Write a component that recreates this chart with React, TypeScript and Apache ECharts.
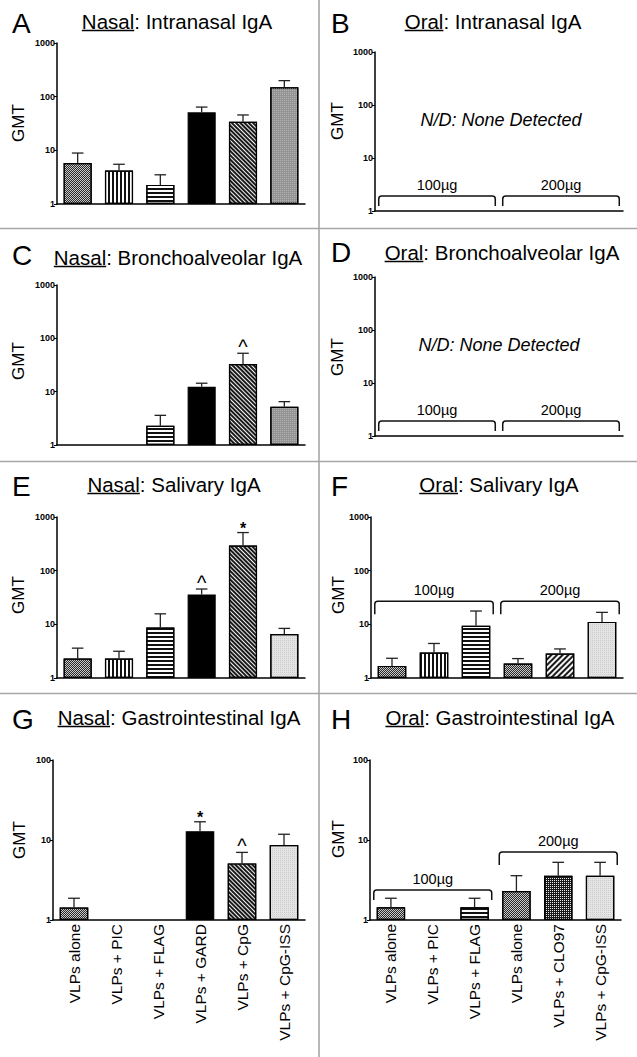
import React, { useEffect, useRef } from 'react';
import * as echarts from 'echarts';

// ---------------- data ----------------
const nasalCategories = ['VLPs alone', 'VLPs + PIC', 'VLPs + FLAG', 'VLPs + GARD', 'VLPs + CpG', 'VLPs + CpG-ISS'];
const oralCategories = ['VLPs alone', 'VLPs + PIC', 'VLPs + FLAG', 'VLPs alone', 'VLPs + CLO97', 'VLPs + CpG-ISS'];

const nasalIntranasal = [5.8, 4.2, 2.27, 51, 34, 149];
const nasalIntranasalErr = [8.9, 5.5, 3.5, 64, 45.6, 199];

const nasalBronch = [null, null, 2.3, 12.4, 33, 5.2];
const nasalBronchErr = [null, null, 3.6, 14.4, 52.5, 6.5];
const nasalBronchSig = ['', '', '', '', '^', ''];

const nasalSalivary = [2.3, 2.3, 8.75, 36, 293, 6.6];
const nasalSalivaryErr = [3.6, 3.15, 15.7, 45.5, 513, 8.4];
const nasalSalivarySig = ['', '', '', '^', '*', ''];

const oralSalivary = [1.68, 2.98, 9.4, 1.86, 2.86, 11.1];
const oralSalivaryErr = [2.33, 4.4, 17.7, 2.3, 3.48, 16.7];

const nasalGI = [1.43, null, null, 12.9, 5.1, 8.66];
const nasalGIErr = [1.87, null, null, 16.9, 7.0, 11.8];
const nasalGISig = ['', '', '', '*', '^', ''];

const oralGI = [1.44, null, 1.44, 2.3, 3.58, 3.58];
const oralGIErr = [1.87, null, 1.87, 3.58, 5.26, 5.26];

const doseLabels = ['100µg', '200µg'];
const doseGroups = [[0, 2], [3, 5]];
const bracketLevelND = [1.92, 1.92];
const bracketLevelOralSalivary = [27, 27];
const bracketLevelOralGI = [2.37, 7.1];

const nasalPatterns = ['checker', 'vert', 'horiz', 'solid', 'diag', 'issDark'];
const nasalPatternsLight = ['checker', 'vert', 'horiz', 'solid', 'diag', 'issLight'];
const oralSalivaryPatterns = ['checker', 'vert', 'horiz', 'checker', 'diagR', 'issLight'];
const oralGIPatterns = ['checker', 'vert', 'horiz', 'checker', 'grid', 'issLight'];

// ---------------- styling ----------------
const FONT = '"Liberation Sans", Arial, Helvetica, sans-serif';

const FILLS: Record<string, any> = {
  checker: { color: '#c8c8c8', decal: { symbol: 'rect', symbolSize: 1, dashArrayX: [[1, 1], [0, 1, 1, 0]], dashArrayY: [1, 0], color: '#2a2a2a' } },
  vert: { color: '#ffffff', decal: { symbol: 'rect', symbolSize: 1, dashArrayX: [1.4, 1.2], dashArrayY: [1, 0], color: '#111' } },
  horiz: { color: '#ffffff', decal: { symbol: 'rect', symbolSize: 1, dashArrayX: [1, 0], dashArrayY: [1.5, 1.5], color: '#111' } },
  solid: { color: '#000000' },
  diag: { color: '#f4f4f4', decal: { symbol: 'rect', symbolSize: 1, dashArrayX: [1, 0], dashArrayY: [1.6, 1.0], rotation: Math.PI / 4, color: '#1a1a1a' } },
  diagR: { color: '#f4f4f4', decal: { symbol: 'rect', symbolSize: 1, dashArrayX: [1, 0], dashArrayY: [1.6, 1.1], rotation: -Math.PI / 4, color: '#1a1a1a' } },
  grid: { color: '#1a1a1a', decal: { symbol: 'rect', symbolSize: 1, dashArrayX: [1, 1], dashArrayY: [1, 1], color: '#e8e8e8' } },
  issDark: { color: '#939393', decal: { symbol: 'rect', symbolSize: 1, dashArrayX: [1, 1], dashArrayY: [1, 1], color: '#b4b4b4' } },
  issLight: { color: '#e4e4e4', decal: { symbol: 'rect', symbolSize: 1, dashArrayX: [1, 1], dashArrayY: [1, 1], color: '#cbcbcb' } },
};

type Panel = {
  grid: { left: number; top: number; width: number; height: number };
  max: number;
  cats: string[];
  labels: boolean;
  values?: (number | null)[];
  errs?: (number | null)[];
  sig?: string[];
  patterns?: string[];
  brackets?: number[];
  bracketDrop?: number[];
};

const panels: Panel[] = [
  { grid: { left: 57, top: 43, width: 248, height: 161 }, max: 1000, cats: nasalCategories, labels: false, values: nasalIntranasal, errs: nasalIntranasalErr, patterns: nasalPatterns },
  { grid: { left: 375, top: 52, width: 248, height: 159 }, max: 1000, cats: oralCategories, labels: false, brackets: bracketLevelND, bracketDrop: [10, 10] },
  { grid: { left: 57, top: 285, width: 248, height: 160 }, max: 1000, cats: nasalCategories, labels: false, values: nasalBronch, errs: nasalBronchErr, sig: nasalBronchSig, patterns: nasalPatterns },
  { grid: { left: 375, top: 277, width: 248, height: 159 }, max: 1000, cats: oralCategories, labels: false, brackets: bracketLevelND, bracketDrop: [10, 10] },
  { grid: { left: 57, top: 517, width: 248, height: 161 }, max: 1000, cats: nasalCategories, labels: false, values: nasalSalivary, errs: nasalSalivaryErr, sig: nasalSalivarySig, patterns: nasalPatternsLight },
  { grid: { left: 371, top: 517, width: 252, height: 161 }, max: 1000, cats: oralCategories, labels: false, values: oralSalivary, errs: oralSalivaryErr, patterns: oralSalivaryPatterns, brackets: bracketLevelOralSalivary, bracketDrop: [13, 13] },
  { grid: { left: 53, top: 760, width: 252, height: 160 }, max: 100, cats: nasalCategories, labels: true, values: nasalGI, errs: nasalGIErr, sig: nasalGISig, patterns: nasalPatternsLight },
  { grid: { left: 370, top: 760, width: 251, height: 160 }, max: 100, cats: oralCategories, labels: true, values: oralGI, errs: oralGIErr, patterns: oralGIPatterns, brackets: bracketLevelOralGI, bracketDrop: [10, 13] },
];

const letters = [
  { t: 'A', x: 12, y: 23 }, { t: 'B', x: 331, y: 23 },
  { t: 'C', x: 12, y: 255 }, { t: 'D', x: 331, y: 252 },
  { t: 'E', x: 12, y: 486 }, { t: 'F', x: 331, y: 486 },
  { t: 'G', x: 12, y: 719 }, { t: 'H', x: 331, y: 719 },
];

const titles = [
  { w: 'Nasal', r: ': Intranasal IgA', x: 177, y: 21 },
  { w: 'Oral', r: ': Intranasal IgA', x: 493, y: 21 },
  { w: 'Nasal', r: ': Bronchoalveolar IgA', x: 178, y: 257 },
  { w: 'Oral', r: ': Bronchoalveolar IgA', x: 502, y: 252 },
  { w: 'Nasal', r: ': Salivary IgA', x: 174, y: 484 },
  { w: 'Oral', r: ': Salivary IgA', x: 499, y: 484 },
  { w: 'Nasal', r: ': Gastrointestinal IgA', x: 179, y: 717 },
  { w: 'Oral', r: ': Gastrointestinal IgA', x: 500, y: 717 },
];

const gmtPos = [
  [18, 123], [337, 121], [18, 361], [337, 357], [18.5, 595], [338, 595], [19, 840], [338.5, 839],
];

const ndPos = [[501, 119.5], [499, 344.5]];

function measure(text: string, font: string) {
  const c = document.createElement('canvas').getContext('2d') as CanvasRenderingContext2D;
  c.font = font;
  return c.measureText(text).width;
}

function txt(x: number, y: number, text: string, font: string, align = 'center', vAlign = 'middle', rotation = 0) {
  return {
    type: 'text', x, y, rotation, silent: true,
    style: { text, font, fill: '#000', align, verticalAlign: vAlign, textAlign: align, textVerticalAlign: vAlign },
  };
}

function buildOption() {
  const grids: any[] = [];
  const xAxes: any[] = [];
  const yAxes: any[] = [];
  const series: any[] = [];
  const graphics: any[] = [];

  panels.forEach((p, i) => {
    grids.push({ ...p.grid, containLabel: false });
    xAxes.push({
      type: 'category', gridIndex: i, data: p.cats, boundaryGap: true,
      axisLine: { show: true, lineStyle: { color: '#000', width: 1.5 } },
      axisTick: { show: false },
      axisLabel: p.labels
        ? { show: true, rotate: 90, interval: 0, fontSize: 15.5, color: '#000', fontFamily: FONT, margin: 4 }
        : { show: false },
      splitLine: { show: false },
    });
    yAxes.push({
      type: 'log', logBase: 10, min: 1, max: p.max, gridIndex: i,
      axisLine: { show: true, lineStyle: { color: '#000', width: 1.5 } },
      axisTick: { show: true, length: 3, lineStyle: { color: '#000', width: 1 } },
      axisLabel: { show: true, fontSize: 9, fontWeight: 'bold', color: '#000', fontFamily: FONT, margin: 2, formatter: (v: number) => String(Math.round(v)) },
      splitLine: { show: false },
      minorTick: { show: false },
    });

    if (p.values) {
      const pats = p.patterns as string[];
      series.push({
        type: 'bar', xAxisIndex: i, yAxisIndex: i, barWidth: '68%',
        itemStyle: { borderColor: '#000', borderWidth: 1.2 },
        data: p.values.map((v, k) => (v == null ? '-' : {
          value: v,
          itemStyle: { color: FILLS[pats[k]].color, decal: FILLS[pats[k]].decal || 'none' },
        })),
        z: 2,
      });
      const sig = p.sig;
      const errData = p.values
        .map((v, k) => (v == null ? null : [k, v, (p.errs as any)[k]]))
        .filter((d) => d != null);
      series.push({
        type: 'custom', xAxisIndex: i, yAxisIndex: i, z: 3,
        data: errData,
        renderItem: (params: any, api: any) => {
          const k = api.value(0);
          const base = api.coord([k, api.value(1)]);
          const top = api.coord([k, api.value(2)]);
          const half = api.size([1, 0])[0] * 0.14;
          const children: any[] = [
            { type: 'line', shape: { x1: base[0], y1: base[1], x2: top[0], y2: top[1] }, style: { stroke: '#222', lineWidth: 1.3 } },
            { type: 'line', shape: { x1: top[0] - half, y1: top[1], x2: top[0] + half, y2: top[1] }, style: { stroke: '#222', lineWidth: 1.3 } },
          ];
          const m = sig ? sig[k] : '';
          if (m) {
            const f = m === '^' ? `20px ${FONT}` : `bold 16px ${FONT}`;
            children.push({
              type: 'text',
              style: { text: m, x: top[0], y: top[1] + 4, font: f, fill: '#000', align: 'center', verticalAlign: 'bottom', textAlign: 'center', textVerticalAlign: 'bottom' },
            });
          }
          return { type: 'group', children };
        },
      });
    }

    if (p.brackets) {
      const drops = p.bracketDrop as number[];
      series.push({
        type: 'custom', xAxisIndex: i, yAxisIndex: i, z: 4,
        data: doseGroups.map((g, j) => [g[0], (p.brackets as number[])[j], g[1]]),
        renderItem: (params: any, api: any) => {
          const lvl = api.value(1);
          const a = api.coord([api.value(0), lvl]);
          const b = api.coord([api.value(2), lvl]);
          const bw = api.size([1, 0])[0];
          const x1 = a[0] - bw * 0.41;
          const x2 = b[0] + bw * 0.41;
          const yt = a[1];
          const yb = yt + drops[params.dataIndex];
          const r = 3;
          const d = `M${x1} ${yb} L${x1} ${yt + r} Q${x1} ${yt} ${x1 + r} ${yt} L${x2 - r} ${yt} Q${x2} ${yt} ${x2} ${yt + r} L${x2} ${yb}`;
          return {
            type: 'group',
            children: [
              { type: 'path', shape: { pathData: d }, style: { stroke: '#111', lineWidth: 1.5, fill: 'none' } },
              {
                type: 'text',
                style: { text: doseLabels[params.dataIndex], x: (x1 + x2) / 2, y: yt - 11, font: `14.5px ${FONT}`, fill: '#000', align: 'center', verticalAlign: 'middle', textAlign: 'center', textVerticalAlign: 'middle' },
              },
            ],
          };
        },
      });
    }
  });

  // dividers
  const div = { stroke: '#a6a6a6', lineWidth: 1.6 };
  graphics.push({ type: 'line', silent: true, shape: { x1: 319, y1: 0, x2: 319, y2: 1057 }, style: div });
  [228.5, 461.5, 693.5].forEach((y) => graphics.push({ type: 'line', silent: true, shape: { x1: 0, y1: y, x2: 637, y2: y }, style: div }));

  letters.forEach((l) => graphics.push(txt(l.x, l.y, l.t, `28px ${FONT}`, 'left', 'middle')));

  const tFont = `20.5px ${FONT}`;
  titles.forEach((t) => {
    const wAll = measure(t.w + t.r, tFont);
    const wWord = measure(t.w, tFont);
    const x0 = t.x - wAll / 2;
    graphics.push(txt(x0, t.y, t.w + t.r, tFont, 'left', 'middle'));
    graphics.push({ type: 'line', silent: true, shape: { x1: x0, y1: t.y + 9.5, x2: x0 + wWord, y2: t.y + 9.5 }, style: { stroke: '#000', lineWidth: 1.3 } });
  });

  gmtPos.forEach(([x, y]) => graphics.push(txt(x, y, 'GMT', `17px ${FONT}`, 'center', 'middle', Math.PI / 2)));
  ndPos.forEach(([x, y]) => graphics.push(txt(x, y, 'N/D: None Detected', `italic 18px ${FONT}`, 'center', 'middle')));

  return {
    animation: false,
    backgroundColor: '#ffffff',
    grid: grids,
    xAxis: xAxes,
    yAxis: yAxes,
    series,
    graphic: { elements: graphics },
  };
}

export default function App() {
  const ref = useRef<HTMLDivElement>(null);
  useEffect(() => {
    const chart = echarts.init(ref.current as HTMLDivElement, null, { renderer: 'svg' });
    chart.setOption(buildOption() as any);
    return () => chart.dispose();
  }, []);
  return <div ref={ref} style={{ position: 'absolute', left: 0, top: 0, width: 637, height: 1057, background: '#fff' }} />;
}
